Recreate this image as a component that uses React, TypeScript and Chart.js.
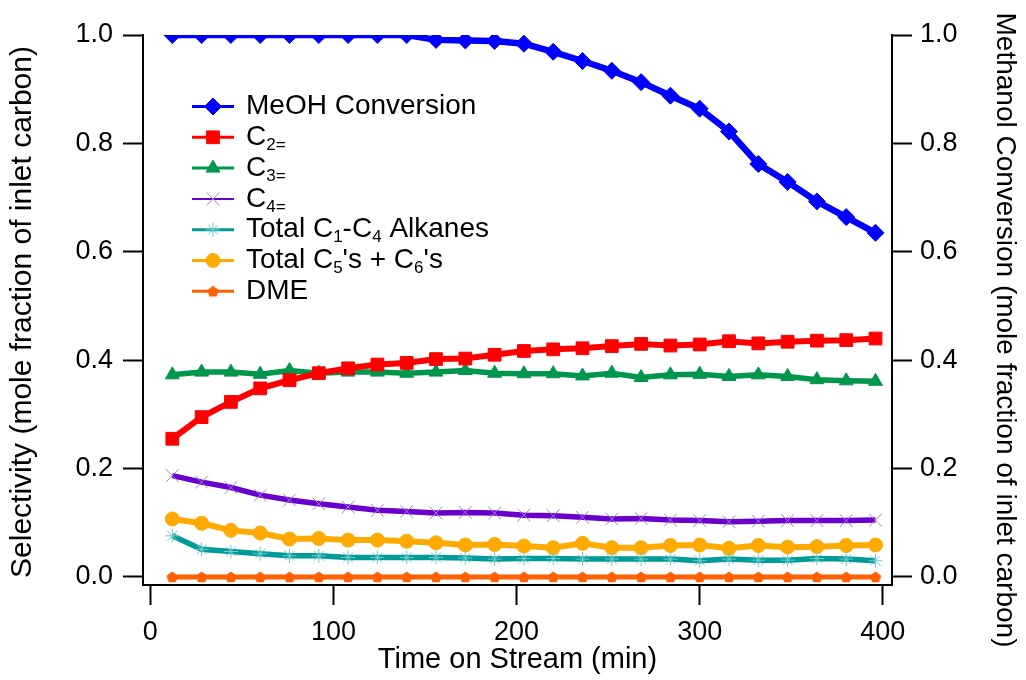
import React, { useEffect, useRef } from 'react';
import { Chart, registerables } from 'chart.js';
import { drawPoint } from 'chart.js/helpers';

Chart.register(...registerables);

// ---- data ----
const timeMin = [12, 28, 44, 60, 76, 92, 108, 124, 140, 156, 172, 188, 204, 220, 236, 252, 268, 284, 300, 316, 332, 348, 364, 380, 396];
const meohConversion = [1, 1, 1, 1, 1, 1, 1, 1, 1, 0.991, 0.99, 0.989, 0.984, 0.969, 0.952, 0.934, 0.913, 0.888, 0.864, 0.822, 0.762, 0.729, 0.693, 0.664, 0.635];
const c2 = [0.255, 0.295, 0.323, 0.348, 0.363, 0.376, 0.385, 0.392, 0.395, 0.402, 0.403, 0.41, 0.417, 0.42, 0.422, 0.426, 0.43, 0.427, 0.429, 0.435, 0.431, 0.434, 0.436, 0.437, 0.44];
const c3 = [0.373, 0.378, 0.378, 0.374, 0.381, 0.376, 0.378, 0.378, 0.376, 0.378, 0.381, 0.376, 0.375, 0.375, 0.371, 0.376, 0.368, 0.373, 0.374, 0.37, 0.373, 0.37, 0.364, 0.362, 0.361];
const c4 = [0.187, 0.175, 0.165, 0.151, 0.142, 0.135, 0.129, 0.123, 0.121, 0.118, 0.119, 0.118, 0.114, 0.113, 0.11, 0.107, 0.108, 0.105, 0.104, 0.102, 0.103, 0.104, 0.104, 0.104, 0.105];
const alkanes = [0.076, 0.051, 0.047, 0.043, 0.039, 0.039, 0.036, 0.036, 0.036, 0.036, 0.035, 0.033, 0.034, 0.034, 0.033, 0.033, 0.033, 0.033, 0.03, 0.033, 0.031, 0.031, 0.034, 0.033, 0.03];
const c5c6 = [0.107, 0.099, 0.086, 0.081, 0.07, 0.071, 0.068, 0.068, 0.066, 0.063, 0.059, 0.06, 0.057, 0.054, 0.062, 0.054, 0.054, 0.058, 0.059, 0.053, 0.058, 0.055, 0.056, 0.058, 0.059];
const dme = [0, 0, 0, 0, 0, 0, 0, 0, 0, 0, 0, 0, 0, 0, 0, 0, 0, 0, 0, 0, 0, 0, 0, 0, 0];

const xTicks = [0, 100, 200, 300, 400];
const yTicks = [0, 0.2, 0.4, 0.6, 0.8, 1.0];

const seriesNames = ['MeOH Conversion', 'C₂₌', 'C₃₌', 'C₄₌', 'Total C₁-C₄ Alkanes', "Total C₅'s + C₆'s", 'DME'];
const legendMarkup = ['MeOH Conversion', 'C_{2=}', 'C_{3=}', 'C_{4=}', 'Total C_{1}-C_{4} Alkanes', "Total C_{5}'s + C_{6}'s", 'DME'];

const xTitle = 'Time on Stream (min)';
const yTitle = 'Selectivity (mole fraction of inlet carbon)';
const y1Title = 'Methanol Conversion (mole fraction of inlet carbon)';

const FONT = "'Liberation Sans', Arial, Helvetica, sans-serif";

function makePentagon(color: string, r: number) {
  const size = Math.ceil(r * 2 + 2);
  const c = document.createElement('canvas');
  c.width = size;
  c.height = size;
  const ctx = c.getContext('2d')!;
  ctx.fillStyle = color;
  ctx.beginPath();
  for (let i = 0; i < 5; i++) {
    const a = -Math.PI / 2 + (i * 2 * Math.PI) / 5;
    const px = size / 2 + r * Math.cos(a);
    const py = size / 2 + r * Math.sin(a) + 0.5;
    if (i === 0) ctx.moveTo(px, py);
    else ctx.lineTo(px, py);
  }
  ctx.closePath();
  ctx.fill();
  return c;
}

function parseMarkup(s: string) {
  const parts: { t: string; sub: boolean }[] = [];
  const re = /_\{([^}]*)\}/g;
  let last = 0;
  let m: RegExpExecArray | null;
  while ((m = re.exec(s))) {
    if (m.index > last) parts.push({ t: s.slice(last, m.index), sub: false });
    parts.push({ t: m[1], sub: true });
    last = m.index + m[0].length;
  }
  if (last < s.length) parts.push({ t: s.slice(last), sub: false });
  return parts;
}

const legendPlugin = {
  id: 'customLegend',
  afterDraw(chart: any) {
    const ctx = chart.ctx as CanvasRenderingContext2D;
    const x0 = 192;
    const x1 = 234;
    const tx = 246;
    const top = 106.5;
    const gap = 30.8;
    ctx.save();
    chart.data.datasets.forEach((ds: any, i: number) => {
      const y = top + i * gap;
      ctx.strokeStyle = ds.borderColor;
      ctx.lineWidth = ds.legendLineWidth;
      ctx.beginPath();
      ctx.moveTo(x0, y);
      ctx.lineTo(x1, y);
      ctx.stroke();
      ctx.fillStyle = ds.pointBackgroundColor;
      ctx.strokeStyle = ds.pointBorderColor;
      ctx.lineWidth = ds.pointBorderWidth;
      drawPoint(ctx, { pointStyle: ds.pointStyle, radius: ds.pointRadius, borderWidth: ds.pointBorderWidth, rotation: 0 } as any, (x0 + x1) / 2, y);
      let cx = tx;
      ctx.fillStyle = '#000';
      ctx.textBaseline = 'middle';
      ctx.textAlign = 'left';
      parseMarkup(legendMarkup[i]).forEach((p) => {
        ctx.font = p.sub ? `17px ${FONT}` : `28px ${FONT}`;
        ctx.fillText(p.t, cx, p.sub ? y + 8 : y);
        cx += ctx.measureText(p.t).width;
      });
    });
    ctx.restore();
  },
};

// vertical axis titles drawn beside the chart
const sideTitlesPlugin = {
  id: 'sideTitles',
  afterDraw(chart: any) {
    const ctx = chart.ctx as CanvasRenderingContext2D;
    ctx.save();
    ctx.fillStyle = '#000';
    ctx.textAlign = 'center';
    ctx.textBaseline = 'middle';
    // left
    ctx.save();
    ctx.translate(23, 312);
    ctx.rotate(-Math.PI / 2);
    ctx.font = `30px ${FONT}`;
    ctx.fillText(yTitle, 0, 0);
    ctx.restore();
    // right
    ctx.save();
    ctx.translate(1005, 330);
    ctx.rotate(Math.PI / 2);
    ctx.font = `28px ${FONT}`;
    ctx.fillText(y1Title, 0, 0);
    ctx.restore();
    ctx.restore();
  },
};

export default function App() {
  const ref = useRef<HTMLCanvasElement | null>(null);
  useEffect(() => {
    if (!ref.current) return;
    const pent = makePentagon('#ff6000', 6);
    const pts = (arr: number[]) => timeMin.map((t, i) => ({ x: t, y: arr[i] }));
    const tickFont = { family: FONT, size: 27 };
    const titleFont = { family: FONT, size: 29 };
    const grid = { drawOnChartArea: false, drawTicks: true, tickLength: 20, tickWidth: 2, tickColor: '#000' };
    const border = { display: true, color: '#000', width: 2 };
    const yScale = (pos: 'left' | 'right', width: number, pad: number) => ({
      type: 'linear',
      position: pos,
      min: -0.0148,
      max: 1.0,
      afterBuildTicks: (s: any) => {
        s.ticks = yTicks.map((v) => ({ value: v }));
      },
      afterFit: (s: any) => {
        s.width = width;
      },
      ticks: { font: tickFont, color: '#000', padding: pad, callback: (v: any) => Number(v).toFixed(1) },
      grid,
      border,
      title: { display: false },
    });

    const chart = new Chart(ref.current, {
      type: 'line',
      data: {
        datasets: [
          {
            label: seriesNames[0], data: pts(meohConversion), yAxisID: 'y1',
            borderColor: '#0000ff', backgroundColor: '#0000ff', borderWidth: 6.5,
            pointStyle: 'rectRot', pointRadius: 8.5, pointBorderWidth: 1,
            pointBackgroundColor: '#0000ff', pointBorderColor: '#0000ff', legendLineWidth: 3,
          },
          {
            label: seriesNames[1], data: pts(c2), yAxisID: 'y',
            borderColor: '#ff0000', backgroundColor: '#ff0000', borderWidth: 6,
            pointStyle: 'rect', pointRadius: 9, pointBorderWidth: 1,
            pointBackgroundColor: '#ff0000', pointBorderColor: '#ff0000', legendLineWidth: 3,
          },
          {
            label: seriesNames[2], data: pts(c3), yAxisID: 'y',
            borderColor: '#00964b', backgroundColor: '#00964b', borderWidth: 5.5,
            pointStyle: 'triangle', pointRadius: 8, pointBorderWidth: 1,
            pointBackgroundColor: '#00964b', pointBorderColor: '#00964b', legendLineWidth: 3,
          },
          {
            label: seriesNames[3], data: pts(c4), yAxisID: 'y',
            borderColor: '#6a00cc', backgroundColor: '#6a00cc', borderWidth: 5.5,
            pointStyle: 'crossRot', pointRadius: 9, pointBorderWidth: 1,
            pointBackgroundColor: '#9b7fdc', pointBorderColor: '#9b7fdc', legendLineWidth: 2,
          },
          {
            label: seriesNames[4], data: pts(alkanes), yAxisID: 'y',
            borderColor: '#009a99', backgroundColor: '#009a99', borderWidth: 5.5,
            pointStyle: 'star', pointRadius: 7, pointBorderWidth: 1,
            pointBackgroundColor: '#70cccc', pointBorderColor: '#70cccc', legendLineWidth: 3,
          },
          {
            label: seriesNames[5], data: pts(c5c6), yAxisID: 'y',
            borderColor: '#ffaa00', backgroundColor: '#ffaa00', borderWidth: 6,
            pointStyle: 'circle', pointRadius: 7, pointBorderWidth: 1,
            pointBackgroundColor: '#ffaa00', pointBorderColor: '#ffaa00', legendLineWidth: 3,
          },
          {
            label: seriesNames[6], data: pts(dme), yAxisID: 'y',
            borderColor: '#ff6000', backgroundColor: '#ff6000', borderWidth: 5,
            pointStyle: pent, pointRadius: 6, pointBorderWidth: 0,
            pointBackgroundColor: '#ff6000', pointBorderColor: '#ff6000', legendLineWidth: 3,
          },
        ] as any,
      },
      options: {
        responsive: false,
        animation: false,
        devicePixelRatio: 1,
        layout: { padding: { top: 35, left: 0, right: 0, bottom: 0 } },
        plugins: { legend: { display: false }, tooltip: { enabled: false } },
        scales: {
          x: {
            type: 'linear',
            min: -4,
            max: 405,
            afterBuildTicks: (s: any) => {
              s.ticks = xTicks.map((v) => ({ value: v }));
            },
            afterFit: (s: any) => {
              s.height = 95;
            },
            ticks: { font: tickFont, color: '#000', padding: 11, maxRotation: 0, autoSkip: false, callback: (v: any) => String(v) },
            grid,
            border,
            title: { display: true, text: xTitle, font: titleFont, color: '#000', padding: { top: 0, bottom: 3 } },
          },
          y: yScale('left', 143, 10) as any,
          y1: yScale('right', 134, 8) as any,
        },
      } as any,
      plugins: [legendPlugin, sideTitlesPlugin],
    });
    return () => chart.destroy();
  }, []);
  return (
    <div style={{ position: 'absolute', left: 0, top: 0, width: 1026, height: 680, background: '#fff' }}>
      <canvas ref={ref} width={1026} height={680} />
    </div>
  );
}
